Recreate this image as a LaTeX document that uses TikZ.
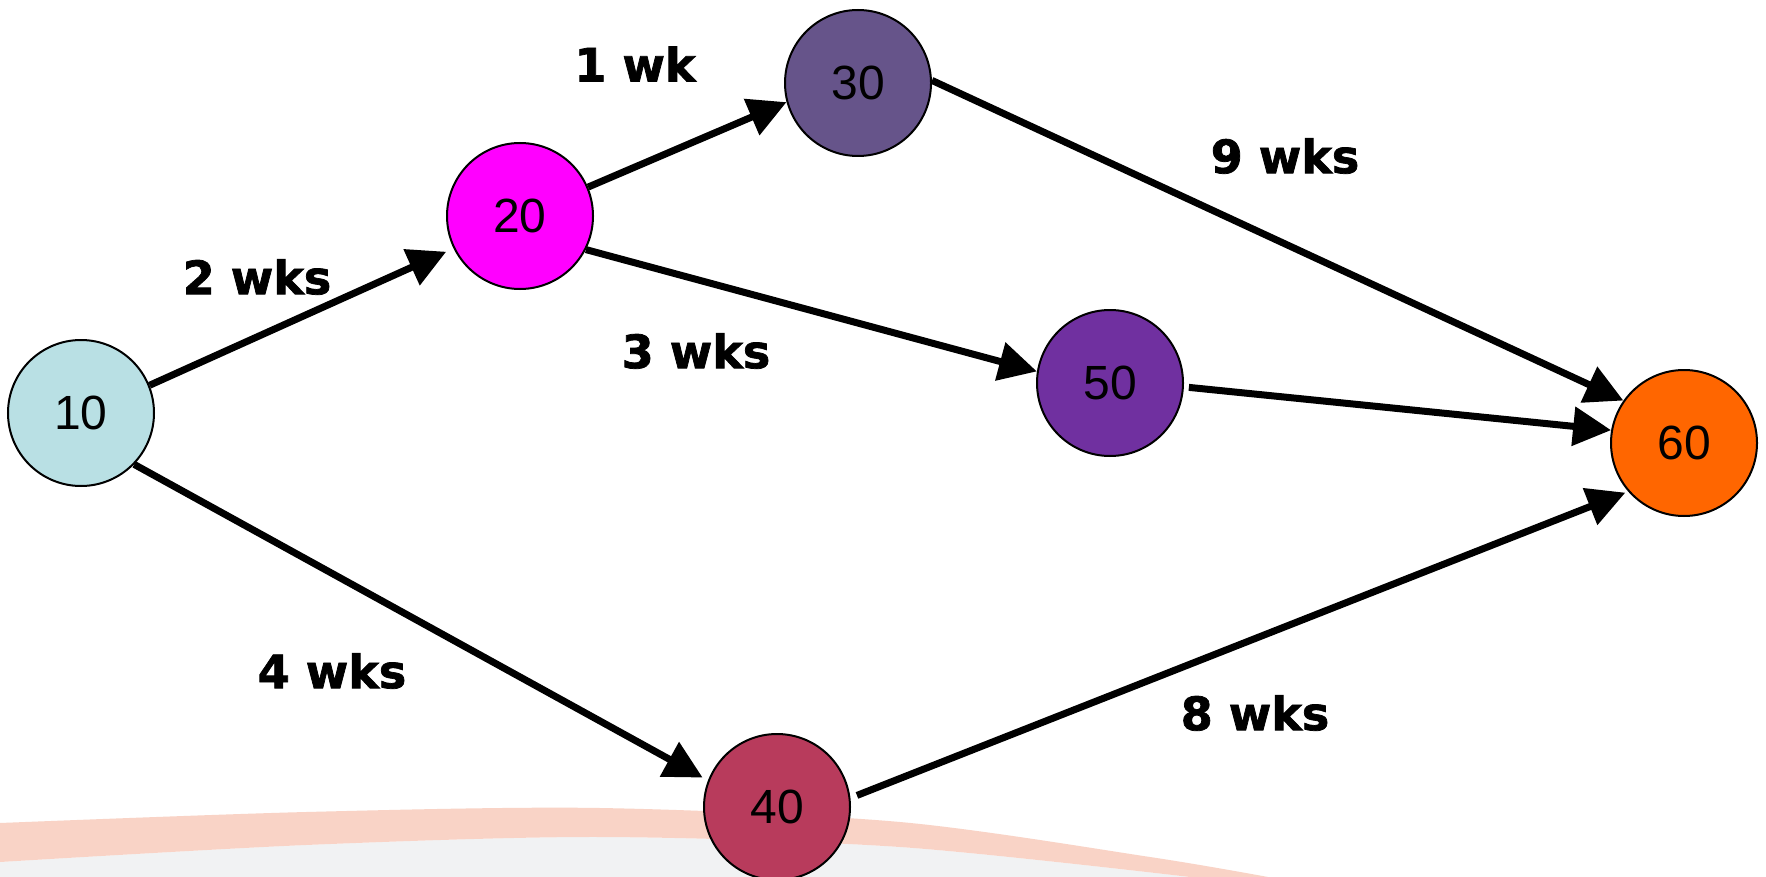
\documentclass[tikz,border=0pt]{standalone}
\usepackage{fontspec}
\setmainfont{Liberation Sans}
\newfontfamily\lblfont[BoldFeatures={FakeBold=1.6}]{DejaVu Sans}
\usetikzlibrary{arrows.meta}
\definecolor{c10}{RGB}{185,224,228}
\definecolor{c20}{RGB}{255,0,255}
\definecolor{c30}{RGB}{102,84,138}
\definecolor{c50}{RGB}{112,48,160}
\definecolor{c60}{RGB}{255,102,0}
\definecolor{c40}{RGB}{184,59,92}
\definecolor{stripe}{RGB}{249,211,198}
\definecolor{floorgray}{RGB}{241,242,243}
\begin{document}
\begin{tikzpicture}[x=0.5pt,y=-0.5pt,
  event/.style={circle,draw=black,line width=1pt,minimum size=73pt,inner sep=0pt,
    font=\fontsize{24}{29}\selectfont},
  dur/.style={inner sep=0pt,font=\lblfont\bfseries\fontsize{23}{28}\selectfont},
  conn/.style={line width=3.5pt,-{Triangle[length=19pt,width=19pt]}}]
\useasboundingbox (0,0) rectangle (1766,877);
\fill[white] (0,0) rectangle (1766,877);
% background decoration
\fill[floorgray] plot[smooth] coordinates {(0,862) (306,845) (600,837) (900,847) (1190,877)} -- (0,877) -- cycle;
\fill[stripe] plot[smooth] coordinates {(0,823) (306,812) (600,808) (900,822) (1150,857) (1268,877)}
  -- plot[smooth] coordinates {(1190,877) (900,847) (600,837) (306,845) (0,862)} -- cycle;
% events
\node[event,fill=c10] (n10) at (81,413) {10};
\node[event,fill=c20] (n20) at (520,216) {20};
\node[event,fill=c30] (n30) at (858,83) {30};
\node[event,fill=c50] (n50) at (1110,383) {50};
\node[event,fill=c60] (n60) at (1684,443) {60};
\node[event,fill=c40] (n40) at (777,807) {40};
% activities
\draw[conn,shorten >=4pt] (n10.22) -- (n20.206);
\draw[conn,shorten >=3pt] (n10.-44) -- (n40.159);
\draw[conn] (n20.23) -- (n30.195);
\draw[conn] (n20.-27) -- (n50.171);
\draw[conn] (n30.2) -- (n60.145);
\draw[conn,shorten <=2.5pt] (n50.-3) -- (n60.170);
\draw[conn,shorten <=3.5pt,shorten >=1.5pt] (n40.7) -- (n60.221);
% durations
\node[dur] (l1) at (635,64) {1 wk};
\node[dur] (l9) at (1285,156) {9 wks};
\node[dur] (l2) at (257,277) {2 wks};
\node[dur] (l3) at (696,351) {3 wks};
\node[dur] (l4) at (332,671) {4 wks};
\node[dur] (l8) at (1255,713) {8 wks};
\end{tikzpicture}
\end{document}
